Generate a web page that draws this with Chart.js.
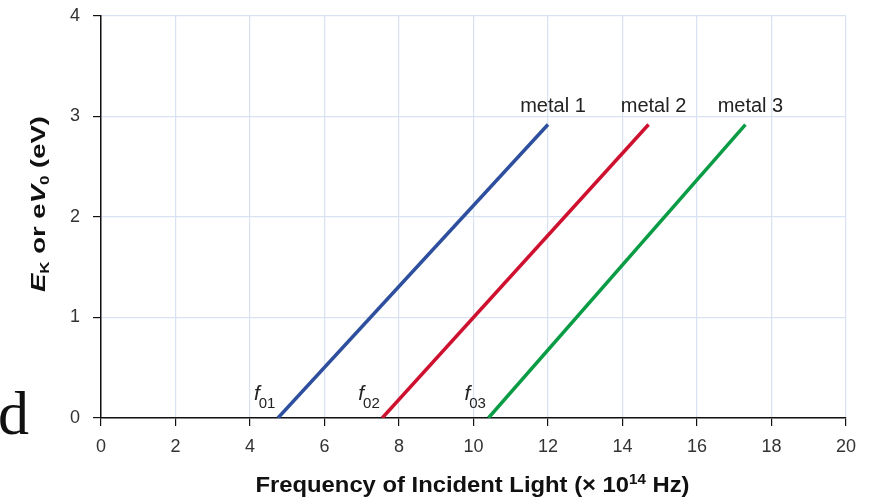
<!DOCTYPE html>
<html>
<head>
<meta charset="utf-8">
<script src="https://cdn.jsdelivr.net/npm/chart.js@4"></script>
<style>
  html, body { margin: 0; padding: 0; background: #fff; }
  #wrap { width: 874px; height: 501px; position: relative; }
</style>
</head>
<body>
<div id="wrap"><canvas id="chart"></canvas></div>
<script>
// Data (x in 10^14 Hz, y in eV)
const metalNames = ["metal 1", "metal 2", "metal 3"];
const metal1 = [{ x: 4.75, y: 0 }, { x: 12.0, y: 2.92 }];
const metal2 = [{ x: 7.55, y: 0 }, { x: 14.7, y: 2.92 }];
const metal3 = [{ x: 10.4, y: 0 }, { x: 17.3, y: 2.92 }];
const thresholdNames = ["01", "02", "03"];
const lineColors = ["#2d4f9e", "#cf1130", "#0a9c45"];

const xTicks = [0, 2, 4, 6, 8, 10, 12, 14, 16, 18, 20];
const yTicks = [0, 1, 2, 3, 4];

const FONT = "'Liberation Sans', Arial, sans-serif";

// draws pieces of text in a row, squeezed/stretched to a given width
function drawRun(ctx, parts, x0, y0, targetW) {
    let total = 0;
    parts.forEach(p => { ctx.font = p.f; p.w = ctx.measureText(p.t).width; total += p.w; });
    const sx = targetW ? targetW / total : 1;
    ctx.save();
    ctx.translate(x0 - (total * sx) / 2, y0);
    ctx.scale(sx, 1);
    let x = 0;
    parts.forEach(p => {
        ctx.font = p.f;
        ctx.fillText(p.t, x, p.dy);
        x += p.w;
    });
    ctx.restore();
}

// Extra text: metal labels, f0 labels, axis titles
const annotations = {
    id: "annotations",
    afterDraw(chart) {
        const ctx = chart.ctx;
        const xs = chart.scales.x;
        const ys = chart.scales.y;
        ctx.save();

        // metal labels above the line ends
        ctx.fillStyle = "#222";
        ctx.font = "20px " + FONT;
        ctx.textAlign = "center";
        ctx.textBaseline = "alphabetic";
        chart.data.datasets.forEach((ds, i) => {
            const end = ds.data[ds.data.length - 1];
            ctx.fillText(metalNames[i], xs.getPixelForValue(end.x) + 5, ys.getPixelForValue(end.y) - 13);
        });

        // f0 labels left of the line starts
        ctx.textAlign = "left";
        chart.data.datasets.forEach((ds, i) => {
            const start = ds.data[0];
            const px = xs.getPixelForValue(start.x) - 24;
            const py = ys.getPixelForValue(start.y) - 18;
            ctx.font = "italic 21px " + FONT;
            const fw = ctx.measureText("f").width;
            ctx.fillText("f", px, py);
            ctx.font = "15px " + FONT;
            ctx.fillText(thresholdNames[i], px + fw - 1, py + 8);
        });

        // x axis title
        ctx.fillStyle = "#111";
        drawRun(ctx, [
            { t: "Frequency of Incident Light (\u00d7 10", f: "bold 22px " + FONT, dy: 0 },
            { t: "14", f: "bold 14px " + FONT, dy: -8 },
            { t: " Hz)", f: "bold 22px " + FONT, dy: 0 }
        ], (xs.left + xs.right) / 2 - 1, 492, 434);

        // y axis title, rotated
        ctx.save();
        ctx.translate(45, 204);
        ctx.rotate(-Math.PI / 2);
        drawRun(ctx, [
            { t: "E", f: "italic bold 21px " + FONT, dy: 0 },
            { t: "K", f: "bold 13px " + FONT, dy: 4 },
            { t: " or e", f: "bold 21px " + FONT, dy: 0 },
            { t: "V", f: "italic bold 21px " + FONT, dy: 0 },
            { t: "0", f: "bold 13px " + FONT, dy: 4 },
            { t: " (eV)", f: "bold 21px " + FONT, dy: 0 }
        ], 0, 0, 176);
        ctx.restore();
        ctx.restore();

        // stray glyph at the left edge of the picture
        ctx.save();
        ctx.fillStyle = "#111";
        ctx.font = "62px 'Liberation Serif', 'DejaVu Serif', serif";
        ctx.textAlign = "left";
        ctx.fillText("d", -2, 434);
        ctx.restore();
    }
};

const ctx = document.getElementById("chart").getContext("2d");
new Chart(ctx, {
    type: "scatter",
    data: {
        datasets: [metal1, metal2, metal3].map((d, i) => ({
            label: metalNames[i],
            data: d,
            showLine: true,
            borderColor: lineColors[i],
            borderWidth: 3.5,
            pointRadius: 0,
            borderCapStyle: "butt"
        }))
    },
    options: {
        responsive: true,
        maintainAspectRatio: false,
        animation: false,
        layout: { padding: { top: 16, right: 28, left: 0, bottom: 0 } },
        plugins: { legend: { display: false }, tooltip: { enabled: false } },
        scales: {
            x: {
                type: "linear",
                min: 0, max: 20,
                afterBuildTicks: s => { s.ticks = xTicks.map(v => ({ value: v })); },
                afterFit: s => { s.height = 83; s.paddingLeft = 0; s.paddingRight = 0; },
                ticks: { color: "#333", font: { size: 18, family: FONT }, padding: 10, maxRotation: 0 },
                grid: { color: "#d8e2f3", lineWidth: 1.2, tickColor: "#111", tickLength: 8 },
                border: { color: "#111", width: 1.5 }
            },
            y: {
                type: "linear",
                min: 0, max: 4,
                afterBuildTicks: s => { s.ticks = yTicks.map(v => ({ value: v })); },
                afterFit: s => { s.width = 101; s.paddingTop = 0; s.paddingBottom = 0; },
                ticks: { color: "#333", font: { size: 18, family: FONT }, padding: 13 },
                grid: { color: "#d8e2f3", lineWidth: 1.2, tickColor: "#111", tickLength: 8 },
                border: { color: "#111", width: 1.5 }
            }
        }
    },
    plugins: [annotations]
});
</script>
</body>
</html>
